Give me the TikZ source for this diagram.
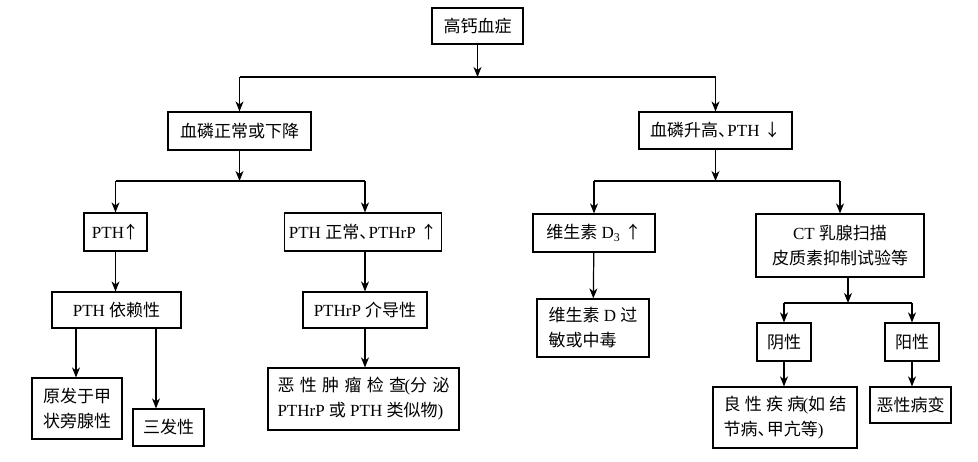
\documentclass[tikz,border=0pt]{standalone}
\usepackage{fontspec}
\setmainfont{Liberation Serif}
\newfontfamily\cjk{Noto Sans CJK SC}
\newcommand{\zh}[1]{{\cjk #1}}
\newcommand{\dun}{{\cjk 、}\hspace{-0.45em}}
\newcommand{\up}{{\cjk ↑}}
\newcommand{\dn}{{\cjk ↓}}
\usetikzlibrary{arrows.meta}
\begin{document}
\begin{tikzpicture}[x=1pt,y=-1pt,
  box/.style 2 args={draw, line width=1.2pt, inner sep=0pt, align=center,
    minimum width=#1, minimum height=#2, font=\fontsize{17}{25}\selectfont},
  arr/.style={line width=1.2pt, -{Stealth[length=10pt,width=8pt,inset=3pt]}},
  ln/.style={line width=1.2pt}]
\useasboundingbox (0,0) rectangle (978,461);
\fill[white] (0,0) rectangle (978,461);

% nodes
\node[box={91}{36}] (top) at (477.5,26) {\zh{高钙血症}};
\node[box={143}{38}] (low) at (239.5,131) {\zh{血磷正常或下降}};
\node[box={153}{37}] (high) at (715.5,130.5) {\zh{血磷升高}\dun PTH \dn};
\node[box={63}{38}] (pthup) at (115.5,232) {PTH\hspace{-2pt}\up};
\node[box={157}{38}] (pthn) at (363,232) {PTH \zh{正常}\dun PTHrP \up};
\node[box={122}{38}] (vd) at (594,233) {\zh{维生素} D\textsubscript{3} \up};
\node[box={168}{63}] (ct) at (840,245.5) {CT \zh{乳腺扫描}\\\zh{皮质素抑制试验等}};
\node[box={129}{36}] (dep) at (116.5,310) {PTH \zh{依赖性}};
\node[box={124}{36}] (med) at (365,310) {PTHrP \zh{介导性}};
\node[box={112}{58}, align=left] (vdx) at (593,328) {\zh{维生素} D \zh{过}\\\zh{敏或中毒}};
\node[box={54}{38}] (neg) at (784,342) {\zh{阴性}};
\node[box={54}{38}] (pos) at (912,342) {\zh{阳性}};
\node[box={90}{61}] (prim) at (77,408.5) {\zh{原发于甲}\\\zh{状旁腺性}};
\node[box={71}{37}] (tri) at (168.5,427.5) {\zh{三发性}};
\node[box={191}{62}, align=left] (mal) at (363.5,399) {\makebox[172pt][l]{\cjk 恶\hfill 性\hfill 肿\hfill 瘤\hfill 检\hfill 查\hspace{-0.1em}\rmfamily(\cjk 分\hfill 泌}\\\makebox[172pt][l]{PTHrP \zh{或} PTH \zh{类似物})}};
\node[box={144}{61}, align=left] (ben) at (785,417.5) {\makebox[123pt][l]{\cjk 良\hfill 性\hfill 疾\hfill 病\hspace{-0.1em}\rmfamily(\cjk 如\hfill 结}\\\zh{节病}\dun\zh{甲亢等})};
\node[box={81}{36}] (malc) at (910.5,405) {\zh{恶性病变}};

% junctions
\coordinate (j1) at (477.5,77);
\coordinate (j2) at (239.5,181);
\coordinate (j3) at (715.5,181);
\coordinate (j4) at (848,303);

% connectors
\draw[arr] (top) -- (j1);
\draw[ln] (j1 -| low) -- (j1 -| high);
\draw[arr] (j1 -| low) -- (low);
\draw[arr] (j1 -| high) -- (high);

\draw[arr] (low) -- (j2);
\draw[ln] (j2 -| pthup) -- (j2 -| med);
\draw[arr] (j2 -| pthup) -- (pthup);
\draw[arr] (j2 -| med) -- (med |- pthn.north);

\draw[arr] (high) -- (j3);
\draw[ln] (j3 -| vd) -- (j3 -| ct);
\draw[arr] (j3 -| vd) -- (vd);
\draw[arr] (j3 -| ct) -- (ct);

\draw[arr] (pthup) -- (pthup |- dep.north);
\draw[arr] (med |- pthn.south) -- (med);
\draw[arr] (med) -- (med |- mal.north);
\draw[arr] (vd) -- (vdx);

\coordinate (dl) at (76,328);
\coordinate (dr) at (156,328);
\draw[arr] (dl) -- (dl |- prim.north);
\draw[arr] (dr) -- (dr |- tri.north);

\draw[arr] (ct.south -| j4) -- (j4);
\draw[ln] (j4 -| neg) -- (j4 -| pos);
\draw[arr] (j4 -| neg) -- (neg);
\draw[arr] (j4 -| pos) -- (pos);
\draw[arr] (neg) -- (neg |- ben.north);
\draw[arr] (pos) -- (pos |- malc.north);
\end{tikzpicture}
\end{document}
